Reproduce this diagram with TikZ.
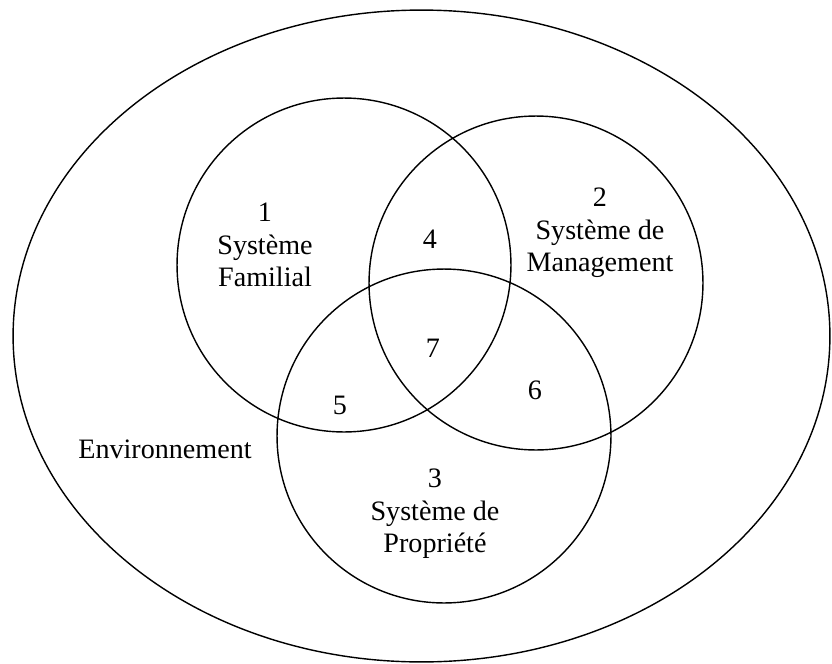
\documentclass[tikz,border=0pt]{standalone}
\usepackage{fontspec}
\setmainfont{Liberation Serif}
\usetikzlibrary{shapes.geometric}

\tikzset{
  set/.style={circle, draw, line width=0.8pt, inner sep=0pt, outer sep=0pt, minimum size=6.68cm},
  lbl/.style={align=center, inner sep=0pt, font=\fontsize{16}{18.5}\selectfont},
}

\begin{document}
\begin{tikzpicture}[x=0.02cm, y=-0.02cm]
  \useasboundingbox (0,0) rectangle (832,663);

  % Environment
  \node[ellipse, draw, line width=0.8pt, inner sep=0pt, outer sep=0pt,
        minimum width=16.34cm, minimum height=13.04cm] (env) at (421.5,336) {};

  % Systems
  \node[set] (c1) at (344,265) {};
  \node[set] (c2) at (536,283) {};
  \node[set] (c3) at (444,436) {};

  % Labels
  \node[lbl] (s1) at (265,245) {1\\Système\\Familial};
  \node[lbl] (s2) at (600,233) {2\\Système de\\Management};
  \node[lbl] (s3) at (435,514) {3\\Système de\\Propriété};
  \node[lbl] (r4) at (430,239) {4};
  \node[lbl] (r5) at (340,405) {5};
  \node[lbl] (r6) at (535,390) {6};
  \node[lbl] (r7) at (433,348) {7};
  \node[lbl] (e)  at (165,449) {Environnement};
\end{tikzpicture}
\end{document}
